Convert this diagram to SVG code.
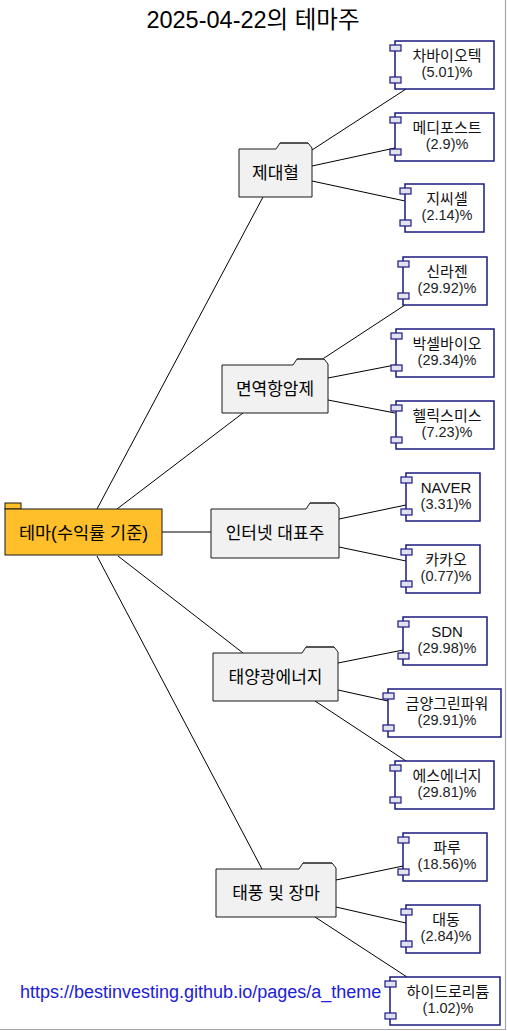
<svg xmlns="http://www.w3.org/2000/svg" width="507" height="1031" viewBox="0 0 507 1031">
<defs>
<style>
text{font-family:"Liberation Sans","Noto Sans CJK KR",sans-serif;fill:#000}
.title{font-size:23.5px}
.pk{fill:#F1F1F1;stroke:#181818;stroke-width:1}
.pkt{font-size:17px}
.rt{font-size:17.5px}
.cp{fill:#FFFFFF;stroke:#1A1A80;stroke-width:1.5}
.pt{fill:#E2E2F0;stroke:#1A1A80;stroke-width:1.2}
.ct{font-size:15px;fill:#111}
.cv{font-size:14.5px;fill:#222}
.cn line{stroke:#000;stroke-width:1}
.url{font-size:18px;fill:#2020D8}
</style>
</defs>
<rect x="0" y="0" width="507" height="1031" fill="#FFFFFF"/>
<line x1="505.5" y1="0" x2="505.5" y2="1030" stroke="#A8A8A8" stroke-width="1.2"/>
<line x1="0" y1="1029.5" x2="506" y2="1029.5" stroke="#A8A8A8" stroke-width="1.2"/>
<text class="title" x="253" y="28" text-anchor="middle">2025-04-22의 테마주</text>

<g id="connectors" class="cn">
<line x1="97" y1="509" x2="263" y2="197"/>
<line x1="117" y1="509" x2="243" y2="413"/>
<line x1="162" y1="532" x2="211" y2="532"/>
<line x1="118" y1="556" x2="243" y2="653"/>
<line x1="97" y1="556" x2="262" y2="869"/>
<line x1="312" y1="150" x2="406" y2="89"/>
<line x1="312" y1="166" x2="395" y2="148"/>
<line x1="312" y1="181" x2="405" y2="201"/>
<line x1="315" y1="364" x2="405" y2="305"/>
<line x1="328" y1="378" x2="395" y2="365"/>
<line x1="328" y1="400" x2="395" y2="413"/>
<line x1="339" y1="519" x2="406" y2="505"/>
<line x1="339" y1="547" x2="406" y2="561"/>
<line x1="338" y1="663" x2="403" y2="650"/>
<line x1="338" y1="690" x2="388" y2="701"/>
<line x1="315" y1="701" x2="406" y2="761"/>
<line x1="336" y1="880" x2="403" y2="866"/>
<line x1="336" y1="907" x2="406" y2="923"/>
<line x1="315" y1="917" x2="407" y2="977"/>
</g>

<g id="root">
<rect x="5" y="503" width="16" height="6" fill="#FFBF2A" stroke="#181818" stroke-width="1"/>
<rect x="5" y="509" width="157" height="46" fill="#FFBF2A" stroke="#181818" stroke-width="1"/>
<text class="rt" x="83.5" y="538.5" text-anchor="middle">테마(수익률 기준)</text>
</g>

<g id="pkg-jedaehyeol">
<path class="pk" d="M239,149 L276,149 L280,143 L308,143 L312,148 L312,197 L239,197 Z"/>
<line x1="280" y1="143" x2="308" y2="143" stroke="#444" stroke-width="1.5"/>
<text class="pkt" x="275.5" y="179" text-anchor="middle">제대혈</text>
</g>
<g id="pkg-immuno">
<path class="pk" d="M222,365 L293,365 L297,359 L324,359 L328,364 L328,413 L222,413 Z"/>
<line x1="297" y1="359" x2="324" y2="359" stroke="#444" stroke-width="1.5"/>
<text class="pkt" x="275" y="395" text-anchor="middle">면역항암제</text>
</g>
<g id="pkg-internet">
<path class="pk" d="M211,509 L306,509 L310,503 L335,503 L339,508 L339,558 L211,558 Z"/>
<line x1="310" y1="503" x2="335" y2="503" stroke="#444" stroke-width="1.5"/>
<text class="pkt" x="275" y="539" text-anchor="middle">인터넷 대표주</text>
</g>
<g id="pkg-solar">
<path class="pk" d="M213,653 L302,653 L306,647 L334,647 L338,652 L338,701 L213,701 Z"/>
<line x1="306" y1="647" x2="334" y2="647" stroke="#444" stroke-width="1.5"/>
<text class="pkt" x="275.5" y="683" text-anchor="middle">태양광에너지</text>
</g>
<g id="pkg-typhoon">
<path class="pk" d="M216,869 L299,869 L303,863 L332,863 L336,868 L336,917 L216,917 Z"/>
<line x1="303" y1="863" x2="332" y2="863" stroke="#444" stroke-width="1.5"/>
<text class="pkt" x="276" y="899" text-anchor="middle">태풍 및 장마</text>
</g>

<g id="c-chabio">
<rect class="cp" x="395" y="41" width="99" height="48"/>
<rect class="pt" x="390" y="45" width="11" height="6"/><rect class="pt" x="390" y="77" width="11" height="6"/>
<text class="ct" x="447" y="61" text-anchor="middle">차바이오텍</text>
<text class="cv" x="447" y="77" text-anchor="middle">(5.01)%</text>
</g>
<g id="c-medipost">
<rect class="cp" x="395" y="113" width="99" height="48"/>
<rect class="pt" x="390" y="117" width="11" height="6"/><rect class="pt" x="390" y="149" width="11" height="6"/>
<text class="ct" x="447" y="133" text-anchor="middle">메디포스트</text>
<text class="cv" x="447" y="149" text-anchor="middle">(2.9)%</text>
</g>
<g id="c-gccell">
<rect class="cp" x="405" y="184" width="79" height="48"/>
<rect class="pt" x="400" y="188" width="11" height="6"/><rect class="pt" x="400" y="220" width="11" height="6"/>
<text class="ct" x="447" y="204" text-anchor="middle">지씨셀</text>
<text class="cv" x="447" y="220" text-anchor="middle">(2.14)%</text>
</g>
<g id="c-sillajen">
<rect class="cp" x="403" y="257" width="84" height="48"/>
<rect class="pt" x="398" y="261" width="11" height="6"/><rect class="pt" x="398" y="293" width="11" height="6"/>
<text class="ct" x="447" y="277" text-anchor="middle">신라젠</text>
<text class="cv" x="447" y="293" text-anchor="middle">(29.92)%</text>
</g>
<g id="c-vaxcell">
<rect class="cp" x="396" y="329" width="98" height="48"/>
<rect class="pt" x="391" y="333" width="11" height="6"/><rect class="pt" x="391" y="365" width="11" height="6"/>
<text class="ct" x="447" y="349" text-anchor="middle">박셀바이오</text>
<text class="cv" x="447" y="365" text-anchor="middle">(29.34)%</text>
</g>
<g id="c-helixmith">
<rect class="cp" x="396" y="401" width="98" height="48"/>
<rect class="pt" x="391" y="405" width="11" height="6"/><rect class="pt" x="391" y="437" width="11" height="6"/>
<text class="ct" x="447" y="421" text-anchor="middle">헬릭스미스</text>
<text class="cv" x="447" y="437" text-anchor="middle">(7.23)%</text>
</g>
<g id="c-naver">
<rect class="cp" x="406" y="473" width="74" height="48"/>
<rect class="pt" x="401" y="477" width="11" height="6"/><rect class="pt" x="401" y="509" width="11" height="6"/>
<text class="ct" x="446" y="493" text-anchor="middle">NAVER</text>
<text class="cv" x="446" y="509" text-anchor="middle">(3.31)%</text>
</g>
<g id="c-kakao">
<rect class="cp" x="406" y="545" width="74" height="48"/>
<rect class="pt" x="401" y="549" width="11" height="6"/><rect class="pt" x="401" y="581" width="11" height="6"/>
<text class="ct" x="446" y="565" text-anchor="middle">카카오</text>
<text class="cv" x="446" y="581" text-anchor="middle">(0.77)%</text>
</g>
<g id="c-sdn">
<rect class="cp" x="403" y="617" width="84" height="48"/>
<rect class="pt" x="398" y="621" width="11" height="6"/><rect class="pt" x="398" y="653" width="11" height="6"/>
<text class="ct" x="447" y="637" text-anchor="middle">SDN</text>
<text class="cv" x="447" y="653" text-anchor="middle">(29.98)%</text>
</g>
<g id="c-geumyang">
<rect class="cp" x="388" y="689" width="113" height="48"/>
<rect class="pt" x="383" y="693" width="11" height="6"/><rect class="pt" x="383" y="725" width="11" height="6"/>
<text class="ct" x="447" y="709" text-anchor="middle">금양그린파워</text>
<text class="cv" x="447" y="725" text-anchor="middle">(29.91)%</text>
</g>
<g id="c-senergy">
<rect class="cp" x="395" y="761" width="99" height="48"/>
<rect class="pt" x="390" y="765" width="11" height="6"/><rect class="pt" x="390" y="797" width="11" height="6"/>
<text class="ct" x="447" y="781" text-anchor="middle">에스에너지</text>
<text class="cv" x="447" y="797" text-anchor="middle">(29.81)%</text>
</g>
<g id="c-paru">
<rect class="cp" x="403" y="833" width="84" height="48"/>
<rect class="pt" x="398" y="837" width="11" height="6"/><rect class="pt" x="398" y="869" width="11" height="6"/>
<text class="ct" x="447" y="853" text-anchor="middle">파루</text>
<text class="cv" x="447" y="869" text-anchor="middle">(18.56)%</text>
</g>
<g id="c-daedong">
<rect class="cp" x="406" y="905" width="74" height="48"/>
<rect class="pt" x="401" y="909" width="11" height="6"/><rect class="pt" x="401" y="941" width="11" height="6"/>
<text class="ct" x="446" y="925" text-anchor="middle">대동</text>
<text class="cv" x="446" y="941" text-anchor="middle">(2.84)%</text>
</g>
<g id="c-hydro">
<rect class="cp" x="390" y="977" width="110" height="48"/>
<rect class="pt" x="385" y="981" width="11" height="6"/><rect class="pt" x="385" y="1013" width="11" height="6"/>
<text class="ct" x="448" y="997" text-anchor="middle">하이드로리튬</text>
<text class="cv" x="448" y="1013" text-anchor="middle">(1.02)%</text>
</g>

<text class="url" x="20" y="998">https://bestinvesting.github.io/pages/a_theme</text>
</svg>
